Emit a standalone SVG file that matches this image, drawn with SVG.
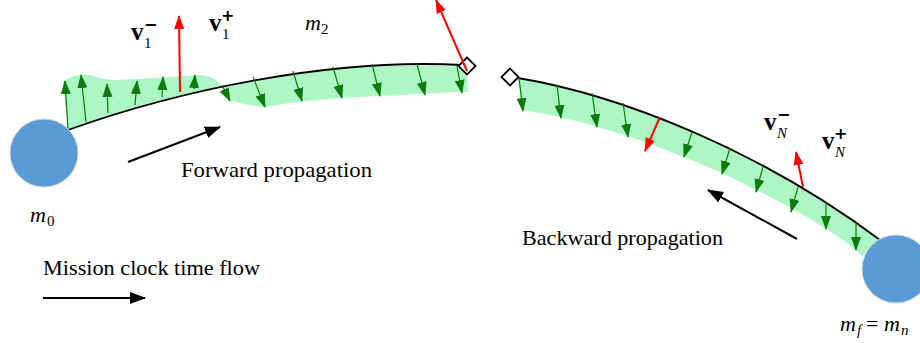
<svg xmlns="http://www.w3.org/2000/svg" width="920" height="343" viewBox="0 0 920 343">
<defs>
<style>
.lbl{font-family:"Liberation Serif","Times New Roman",serif;font-size:22px;fill:#000}
.vb{font-family:"Liberation Serif","Times New Roman",serif;font-weight:bold;font-size:25px;fill:#000}
.mi{font-family:"Liberation Serif","Times New Roman",serif;font-style:italic;font-size:22px;fill:#000}
.sub{font-family:"Liberation Serif","Times New Roman",serif;font-size:15px;fill:#000}
.subi{font-family:"Liberation Serif","Times New Roman",serif;font-style:italic;font-size:15px;fill:#000}
.sup{font-family:"DejaVu Sans",sans-serif;font-weight:bold;font-size:16px;fill:#000}
.band{fill:#adf7c4;stroke:none}
.traj{fill:none;stroke:#000;stroke-width:1.8}
.ga{stroke:#0c7a0c;stroke-width:1.2;fill:none;marker-end:url(#gh)}
.ra{stroke:#ff0000;stroke-width:2;fill:none;marker-end:url(#rh)}
.ka{stroke:#000;stroke-width:2;fill:none;marker-end:url(#kh)}
.dia{fill:#fff;stroke:#000;stroke-width:1.8}
.body{fill:#5b9bd5;stroke:#c8d3de;stroke-width:1}
</style>
<marker id="gh" markerUnits="userSpaceOnUse" markerWidth="14" markerHeight="12" viewBox="0 0 14 10" refX="13" refY="5" orient="auto"><path d="M0,0 L14,5 L0,10 Z" fill="#0c7a0c"/></marker>
<marker id="rh" markerUnits="userSpaceOnUse" markerWidth="14" markerHeight="12" viewBox="0 0 14 10" refX="13" refY="5" orient="auto"><path d="M0,0 L14,5 L0,10 Z" fill="#ff0000"/></marker>
<marker id="kh" markerUnits="userSpaceOnUse" markerWidth="16" markerHeight="14" viewBox="0 0 16 12" refX="15" refY="6" orient="auto"><path d="M0,0 L16,6 L0,12 Z" fill="#000"/></marker>
</defs>

<g id="bands">
<path class="band" d="M68,130 L63,82 C70,76 80,74 90,75 C98,77 104,80 115,80 C140,79 170,77 200,75 C210,76 216,79 220,84 L228,100 C240,103 255,107 266,107 C300,100 350,97 400,95 C430,93 450,92 468,92 L466,67 C330,58 180,90 68,130 Z"/>
<path class="band" d="M518,78 C620,95 760,150 880,240 L862,256 C845,238 800,210 720,172 C660,146 590,120 522,110 Z"/>
</g>

<g id="trajectory-forward"><path class="traj" d="M68,130 C180,90 330,58 462,65"/></g>
<g id="trajectory-backward"><path class="traj" d="M518,78 C620,95 760,150 880,240"/></g>

<g id="connectors">
<line class="ga" x1="68" y1="130" x2="65" y2="81"/>
<line class="ga" x1="86" y1="122" x2="81" y2="75"/>
<line class="ga" x1="108" y1="113" x2="107" y2="84"/>
<line class="ga" x1="135" y1="105" x2="137" y2="81"/>
<line class="ga" x1="162" y1="97" x2="163" y2="77"/>
<line class="ga" x1="194" y1="89" x2="195" y2="75"/>
<line class="ga" x1="222" y1="85" x2="230" y2="101"/>
<line class="ga" x1="253" y1="77" x2="265" y2="107"/>
<line class="ga" x1="293" y1="71" x2="302" y2="101"/>
<line class="ga" x1="333" y1="67" x2="342" y2="98"/>
<line class="ga" x1="372" y1="64" x2="380" y2="96"/>
<line class="ga" x1="417" y1="64" x2="425" y2="95"/>
<line class="ga" x1="457" y1="66" x2="462" y2="93"/>
<line class="ga" x1="519" y1="78" x2="523" y2="111"/>
<line class="ga" x1="557" y1="85" x2="561" y2="118"/>
<line class="ga" x1="592" y1="93" x2="597" y2="127"/>
<line class="ga" x1="623" y1="103" x2="628" y2="137"/>
<line class="ga" x1="692" y1="132" x2="684" y2="157"/>
<line class="ga" x1="730" y1="148" x2="722" y2="174"/>
<line class="ga" x1="763" y1="167" x2="756" y2="192"/>
<line class="ga" x1="798" y1="187" x2="791" y2="212"/>
<line class="ga" x1="826" y1="202" x2="826" y2="229"/>
<line class="ga" x1="856" y1="222" x2="856" y2="250"/>
<line class="ra" x1="180" y1="92" x2="179" y2="16"/>
<line class="ra" x1="660" y1="117" x2="645" y2="151"/>
<line class="ra" x1="803" y1="187" x2="796" y2="152"/>
<line class="ka" x1="128" y1="162" x2="220" y2="127"/>
<line class="ka" x1="797" y1="239" x2="708" y2="190"/>
<line class="ka" x1="43" y1="298" x2="145" y2="298"/>
</g>

<g id="patch-left"><rect class="dia" x="461" y="60" width="12" height="12" transform="rotate(45 467 66)"/></g>
<g id="patch-red"><line class="ra" x1="467" y1="71" x2="436" y2="0"/></g>
<g id="patch-right"><rect class="dia" x="504" y="71" width="12" height="12" transform="rotate(45 510 77)"/></g>

<g id="m0"><circle class="body" cx="44" cy="153" r="34"/></g>
<g id="mf"><circle class="body" cx="896" cy="269" r="34"/></g>

<g id="labels">
<text class="vb" x="131" y="40">v</text><text class="sub" x="144" y="48">1</text><text class="sup" x="144" y="30">−</text>
<text class="vb" x="209" y="31">v</text><text class="sub" x="222" y="39">1</text><text class="sup" x="221" y="21">+</text>
<text class="mi" x="305" y="30">m</text><text class="sub" x="321" y="34">2</text>
<text class="mi" x="30" y="222">m</text><text class="sub" x="47" y="226">0</text>
<text class="vb" x="764" y="130">v</text><text class="subi" x="777" y="138">N</text><text class="sup" x="777" y="120">−</text>
<text class="vb" x="822" y="149">v</text><text class="subi" x="835" y="157">N</text><text class="sup" x="834" y="139">+</text>
<text class="mi" x="840" y="331">m</text><text class="subi" x="857" y="335">f</text><text class="lbl" x="866" y="331">=</text><text class="mi" x="884" y="331">m</text><text class="subi" x="901" y="335">n</text>
<text class="lbl" x="181" y="177" textLength="191" lengthAdjust="spacingAndGlyphs">Forward propagation</text>
<text class="lbl" x="522" y="245" textLength="201" lengthAdjust="spacingAndGlyphs">Backward propagation</text>
<text class="lbl" x="43" y="275" textLength="217" lengthAdjust="spacingAndGlyphs">Mission clock time flow</text>
</g>
</svg>
